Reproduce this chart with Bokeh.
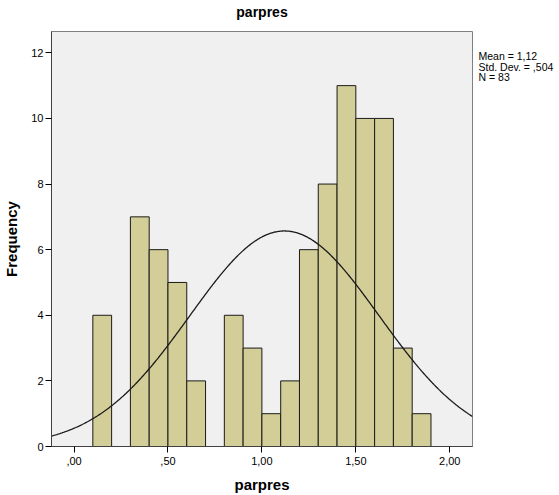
import numpy as np
from bokeh.plotting import figure
from bokeh.models import FixedTicker, ColumnDataSource, Range1d, LinearAxis
from bokeh.embed import file_html
from bokeh.resources import INLINE

# Data
bin_starts = [0.1, 0.2, 0.3, 0.4, 0.5, 0.6, 0.7, 0.8, 0.9, 1.0, 1.1, 1.2, 1.3, 1.4, 1.5, 1.6, 1.7, 1.8]
counts = [4, 0, 7, 6, 5, 2, 0, 4, 3, 1, 2, 6, 8, 11, 10, 10, 3, 1]
bin_width = 0.1
mean = 1.12
std = 0.504
n = 83
x_ticks = [0.0, 0.5, 1.0, 1.5, 2.0]
x_tick_labels = [",00", ",50", "1,00", "1,50", "2,00"]
y_ticks = [0, 2, 4, 6, 8, 10, 12]
stats_lines = ["Mean = 1,12", "Std. Dev. = ,504", "N = 83"]
stats_y = [11.9, 11.58, 11.26]
title_text = "parpres"

FONT = "Liberation Sans"
X0, X1 = -0.12, 2.121

p = figure(width=559, height=495, output_backend="svg", toolbar_location=None,
           x_range=Range1d(X0, X1), y_range=Range1d(0, 12.65),
           frame_width=421, frame_height=415,
           min_border_left=51, min_border_right=87, min_border_top=31, min_border_bottom=49)
p.border_fill_color = "white"
p.background_fill_color = "#F0F0F0"
p.outline_line_color = "#808080"
p.outline_line_width = 1

left = [s for s, c in zip(bin_starts, counts) if c > 0]
right = [s + bin_width for s, c in zip(bin_starts, counts) if c > 0]
top = [c for c in counts if c > 0]
src = ColumnDataSource(dict(left=left, right=right, top=top, bottom=[0] * len(top)))
p.quad(left="left", right="right", top="top", bottom="bottom", source=src,
       fill_color="#D3CE97", line_color="#1a1a1a", line_width=1)

xs = np.linspace(X0, X1, 400)
ys = n * bin_width / (std * np.sqrt(2 * np.pi)) * np.exp(-0.5 * ((xs - mean) / std) ** 2)
p.line(xs, ys, line_color="#1a1a1a", line_width=1.3)

p.xgrid.visible = False
p.ygrid.visible = False

p.xaxis.ticker = FixedTicker(ticks=x_ticks)
p.xaxis.major_label_overrides = {t: l for t, l in zip(x_ticks, x_tick_labels)}
p.yaxis.ticker = FixedTicker(ticks=y_ticks)
for ax in (p.xaxis[0], p.yaxis[0]):
    ax.minor_tick_line_color = None
    ax.major_tick_in = 0
    ax.major_tick_out = 6
    ax.major_tick_line_color = "#000000"
    ax.axis_line_color = "#404040"
    ax.major_label_text_font = FONT
    ax.major_label_text_font_size = "11px"
    ax.major_label_text_color = "#000000"
    ax.axis_label_text_font = FONT
    ax.axis_label_text_font_size = "15px"
    ax.axis_label_text_font_style = "bold"
    ax.axis_label_text_color = "#000000"
p.xaxis.axis_label = "parpres"
p.yaxis.axis_label = "Frequency"
p.yaxis.major_label_standoff = 2
p.xaxis.major_label_standoff = 4
p.xaxis.axis_label_standoff = 8
p.yaxis.axis_label_standoff = 8

# title as the label of an empty axis above the frame
title_axis = LinearAxis(ticker=FixedTicker(ticks=[]), axis_label=title_text)
title_axis.axis_line_color = None
title_axis.major_tick_line_color = None
title_axis.minor_tick_line_color = None
title_axis.major_tick_out = 0
title_axis.major_tick_in = 0
title_axis.axis_label_standoff = 12
title_axis.axis_label_text_font = FONT
title_axis.axis_label_text_font_size = "14px"
title_axis.axis_label_text_font_style = "bold"
title_axis.axis_label_text_color = "#000000"
p.add_layout(title_axis, "above")

# statistics box text on the right side
stats_axis = LinearAxis(ticker=FixedTicker(ticks=stats_y),
                        major_label_overrides={y: t for y, t in zip(stats_y, stats_lines)})
stats_axis.axis_line_color = None
stats_axis.major_tick_line_color = None
stats_axis.minor_tick_line_color = None
stats_axis.major_tick_in = 0
stats_axis.major_tick_out = 0
stats_axis.major_label_standoff = 6
stats_axis.major_label_text_font = FONT
stats_axis.major_label_text_font_size = "10.5px"
stats_axis.major_label_text_color = "#000000"
p.add_layout(stats_axis, "right")

open("out.html", "w").write(file_html(p, INLINE))
